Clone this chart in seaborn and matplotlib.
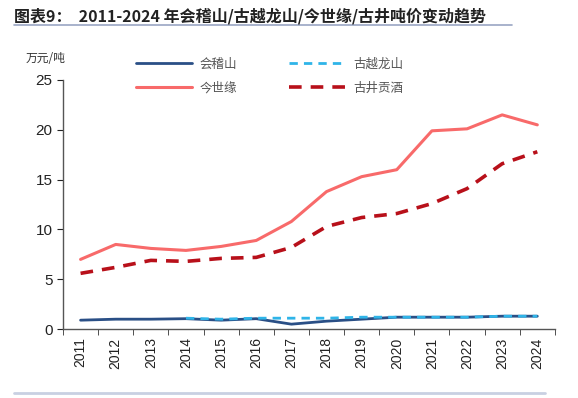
import numpy as np
import pandas as pd
import matplotlib
matplotlib.use("Agg")
import matplotlib.pyplot as plt
import seaborn as sns

years = [str(y) for y in range(2011, 2025)]
kuaijishan = [0.9, 1.0, 1.0, 1.05, 0.9, 1.05, 0.5, 0.8, 1.0, 1.2, 1.2, 1.2, 1.3, 1.3]
guyuelongshan = [np.nan, np.nan, np.nan, 1.1, 1.0, 1.1, 1.1, 1.1, 1.2, 1.2, 1.2, 1.2, 1.3, 1.3]
jinshiyuan = [7.0, 8.5, 8.1, 7.9, 8.3, 8.9, 10.8, 13.8, 15.3, 16.0, 19.9, 20.1, 21.5, 20.5]
gujinggongjiu = [5.6, 6.2, 6.9, 6.8, 7.1, 7.2, 8.2, 10.3, 11.2, 11.6, 12.6, 14.1, 16.6, 17.8]

sns.set_style("ticks")
plt.rcParams['font.family'] = ['Liberation Sans', 'Noto Sans CJK SC', 'DejaVu Sans']
cjk = ['Noto Sans CJK SC', 'DejaVu Sans']

df = pd.DataFrame({"year": years, "会稽山": kuaijishan, "古越龙山": guyuelongshan,
                   "今世缘": jinshiyuan, "古井贡酒": gujinggongjiu})
df["x"] = np.arange(len(years))

fig = plt.figure(figsize=(5.78, 3.98), dpi=100)
ax = fig.add_axes([0.109, 0.173, 0.851, 0.626])

styles = {
    "会稽山": dict(color="#2A4F86", lw=2.0),
    "古越龙山": dict(color="#2FB4E8", lw=2.0, dashes=(3, 2.2)),
    "今世缘": dict(color="#F86A6A", lw=2.2),
    "古井贡酒": dict(color="#B8101A", lw=2.6, dashes=(3.5, 2.5)),
}
handles = {}
for name, st in styles.items():
    kw = dict(color=st["color"], linewidth=st["lw"])
    sns.lineplot(data=df, x="x", y=name, ax=ax, label=name, **kw)
    line = ax.lines[-1]
    if "dashes" in st:
        line.set_dashes(st["dashes"])
    handles[name] = line

ax.set_xlim(-0.5, len(years) - 0.5)
ax.set_ylim(0, 25)
ax.set_yticks([0, 5, 10, 15, 20, 25])
ax.set_xticks(df["x"])
ax.set_xticklabels(years, rotation=90)
ax.set_xticks(np.arange(-0.5, len(years)), minor=True)
ax.tick_params(axis="x", which="major", length=0, pad=6, labelsize=10, colors="#222222")
ax.tick_params(axis="x", which="minor", length=4, direction="out", color="#333333")
ax.tick_params(axis="y", length=4, direction="out", labelsize=11, colors="#222222")
ax.set_xlabel("")
ax.set_ylabel("")
for s in ["top", "right"]:
    ax.spines[s].set_visible(False)
for s in ["left", "bottom"]:
    ax.spines[s].set_color("#555555")
    ax.spines[s].set_linewidth(1.0)

# column-first fill: row 1 = 会稽山, 古越龙山; row 2 = 今世缘, 古井贡酒
order = ["会稽山", "今世缘", "古越龙山", "古井贡酒"]
leg = fig.legend([handles[n] for n in order], order, ncol=2, frameon=False,
                 loc="upper left", bbox_to_anchor=(0.215, 0.883),
                 prop={"family": cjk, "size": 9}, handlelength=4.5,
                 columnspacing=4.2, labelspacing=0.85, handletextpad=0.6)
ax.get_legend().remove()
for t in leg.get_texts():
    t.set_color("#555555")

fig.text(0.045, 0.845, "万元/吨", fontsize=8.5, family=cjk, color="#333333")
fig.text(0.024, 0.958, "图表9：  2011-2024 年会稽山/古越龙山/今世缘/古井吨价变动趋势",
         fontsize=11.5, fontweight="bold", family=cjk, color="#222222", va="center")
fig.add_artist(plt.Line2D([0.024, 0.886], [0.936, 0.936], color="#9AA6C4", lw=1.2))
fig.add_artist(plt.Line2D([0.024, 0.943], [0.013, 0.013], color="#C9D0E2", lw=2.0))

fig.savefig("out.png", dpi=100)
